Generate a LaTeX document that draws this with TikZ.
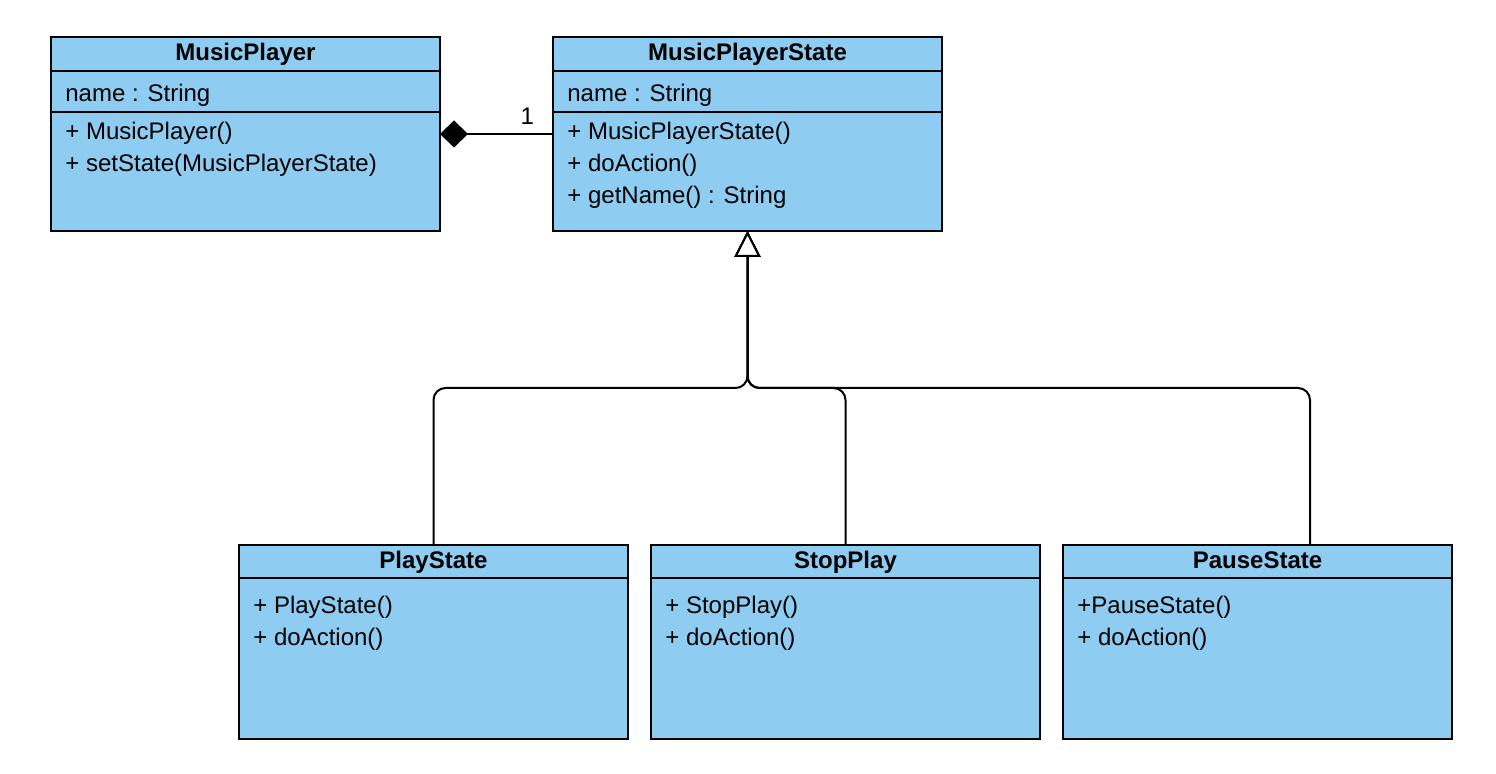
\documentclass[tikz,border=0pt]{standalone}
\usepackage{fontspec}
\setmainfont{Liberation Sans}
\usetikzlibrary{positioning,arrows.meta,calc}
\definecolor{classblue}{HTML}{8ECCF1}
\tikzset{
  classhead/.style={draw,fill=classblue,line width=1pt,minimum width=194.5pt,
    inner sep=0pt,outer sep=0pt,font=\fontsize{12pt}{16pt}\selectfont\bfseries,
    text height=9pt,text depth=2.4pt},
  classpart/.style={draw,fill=classblue,line width=1pt,minimum width=194.5pt,
    inner sep=0pt,outer sep=0pt},
  member/.style={inner sep=0pt,align=left},
  composition/.style={black,line width=1pt,-{Diamond[length=14pt,width=13.5pt]}},
  inherit/.style={black,line width=1pt,rounded corners=6pt,
    -{Triangle[open,length=13pt,width=13pt,fill=white]}},
}
\begin{document}
\begin{tikzpicture}[x=0.5pt,y=-0.5pt,font=\fontsize{12pt}{16pt}\selectfont]
\useasboundingbox (0,0) rectangle (1496,774);
%%
\node (mp head) at (245.5,54) [classhead,minimum height=17pt] {MusicPlayer};
\node (mp attr) [classpart,minimum height=20.5pt,below=0pt of mp head] {};
\node (mp ops) [classpart,minimum height=59.5pt,below=0pt of mp attr] {};
\node (mp attr text) at ($(mp attr.north west)+(14,31)$) [member,anchor=base west] {name : String};
\node (mp ops text) at ($(mp ops.north west)+(14,9.5)$) [member,anchor=north west]
  {+ MusicPlayer()\\+ setState(MusicPlayerState)};
%
\node (mps head) [classhead,minimum height=17pt,right=56.5pt of mp head] {MusicPlayerState};
\node (mps attr) [classpart,minimum height=20.5pt,below=0pt of mps head] {};
\node (mps ops) [classpart,minimum height=59.5pt,below=0pt of mps attr] {};
\node (mps attr text) at ($(mps attr.north west)+(14,31)$) [member,anchor=base west] {name : String};
\node (mps ops text) at ($(mps ops.north west)+(14,9.5)$) [member,anchor=north west]
  {+ MusicPlayerState()\\+ doAction()\\+ getName() : String};
%%
\node (ps head) at (433.5,561.5) [classhead,minimum height=16.5pt] {PlayState};
\node (ps ops) [classpart,minimum height=80.5pt,below=0pt of ps head] {};
\node (ps ops text) at ($(ps ops.north west)+(14,18)$) [member,anchor=north west]
  {+ PlayState()\\+ doAction()};
%
\node (sp head) [classhead,minimum height=16.5pt,right=11.5pt of ps head] {StopPlay};
\node (sp ops) [classpart,minimum height=80.5pt,below=0pt of sp head] {};
\node (sp ops text) at ($(sp ops.north west)+(14,18)$) [member,anchor=north west]
  {+ StopPlay()\\+ doAction()};
%
\node (pause head) [classhead,minimum height=16.5pt,right=11.5pt of sp head] {PauseState};
\node (pause ops) [classpart,minimum height=80.5pt,below=0pt of pause head] {};
\node (pause ops text) at ($(pause ops.north west)+(14,18)$) [member,anchor=north west]
  {+PauseState()\\+ doAction()};
%%
\draw [composition] ($(mps ops.north west)+(0,22)$)
  node [anchor=base east,inner sep=0pt,xshift=-9pt,yshift=4.5pt] (mult) {1}
  -- ($(mp ops.north east)+(0,22)$);
%
\coordinate (join) at ($(mps ops.south)+(0,157)$);
\draw [inherit] (ps head.north) |- (join) -- (mps ops.south);
\draw [inherit] (sp head.north) |- (join) -- (mps ops.south);
\draw [inherit] ($(pause head.north west)+(247,0)$) |- (join) -- (mps ops.south);
%
\end{tikzpicture}
\end{document}
